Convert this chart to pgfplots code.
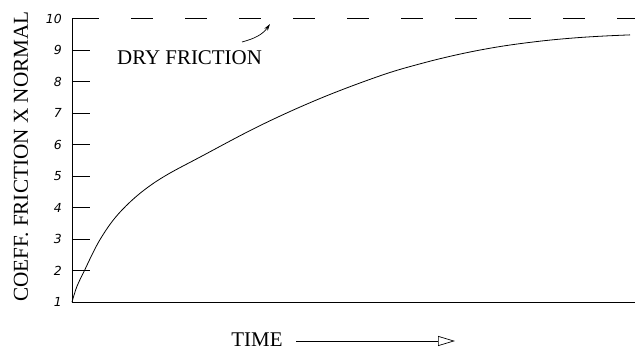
\documentclass[border=0pt]{standalone}
\usepackage{fontspec}
\setmainfont{Liberation Serif}
\setsansfont{Liberation Sans}
\newfontfamily\tickfont{DejaVu Sans}
\usepackage{pgfplots}
\pgfplotsset{compat=1.18}
\usetikzlibrary{arrows.meta}
\begin{document}
\begin{tikzpicture}
\begin{axis}[name=ax, scale only axis, width=563bp, height=283.5bp,
 xmin=0, xmax=563, ymin=1, ymax=10,
 axis x line=bottom, axis y line=left,
 axis line style={-, line width=0.8bp, black},
 xtick=\empty, ytick={1,2,3,4,5,6,7,8,9,10}, tick align=inside, major tick length=18bp,
 tick style={line width=0.8bp, black},
 /pgf/number format/assume math mode=true,
 yticklabel={\fontsize{12.5}{14}\selectfont\tickfont\itshape\pgfmathprintnumber{\tick}},
 yticklabel style={inner sep=0pt, xshift=-10bp},
 ylabel={COEFF. FRICTION X NORMAL},
 ylabel style={font=\fontsize{21.3}{25}\selectfont, at={(axis description cs:-0.0906,0.513)}, anchor=center, inner sep=0pt},
 xlabel={TIME},
 xlabel style={font=\fontsize{21}{25}\selectfont, at={(axis description cs:0.3286,-0.1587)}, anchor=base, inner sep=0pt},
 clip=false]
\addplot[black, line width=0.8bp, dash pattern=on 22bp off 32bp] coordinates {(5,10) (563,10)};
\addplot[black, line width=0.8bp, smooth, tension=0.6] coordinates {
(0,1) (5,1.5) (12.5,2) (20,2.5) (28,2.98) (40,3.55) (54,4.05) (72,4.55) (94,5.02) (128,5.6)
(188,6.6) (248,7.46) (308,8.18) (348,8.56) (388,8.87) (428,9.11) (468,9.28) (501,9.38) (530,9.44) (558,9.48)};
\node[anchor=base west, font=\fontsize{21}{25}\selectfont, inner sep=0pt] at (axis cs:45,8.524) {DRY FRICTION};
\draw[-{Stealth[length=7bp,width=4bp]}, line width=0.7bp] (axis cs:170,9.254) to[out=15,in=235] (axis cs:198,9.825);
\draw[-{Triangle[open,length=17bp,width=10bp]}, line width=0.7bp] (axis cs:224,-0.238) -- (axis cs:383,-0.238);
\end{axis}
\pgfresetboundingbox
\path ([xshift=-72bp,yshift=-48bp]ax.south west) rectangle ([yshift=18.5bp]ax.north east);
\end{tikzpicture}
\end{document}
